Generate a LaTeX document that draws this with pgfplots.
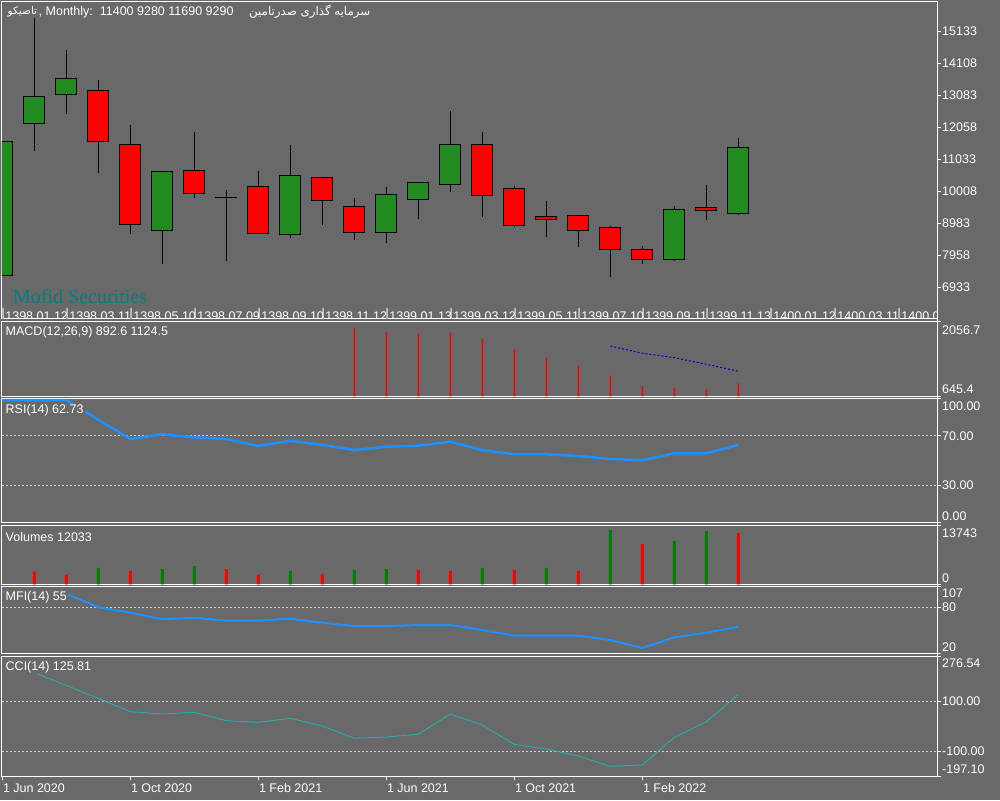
\documentclass[border=0pt]{standalone}
\usepackage{fontspec}
\setmainfont{Liberation Sans}
\newfontfamily\arabicfont[Script=Arabic]{DejaVu Sans}
\newfontfamily\wmfont{Liberation Serif}
\usepackage{pgfplots}
\usepackage{pgfplotstable}
\pgfplotsset{compat=1.18}
\TeXXeTstate=1
\definecolor{bg}{RGB}{105,105,105}
\definecolor{cgreen}{RGB}{34,139,34}
\definecolor{vgreen}{RGB}{0,128,0}
\definecolor{cred}{RGB}{255,0,0}
\definecolor{lvl}{RGB}{205,205,205}
\definecolor{rsiblue}{RGB}{30,144,255}
\definecolor{ccicol}{RGB}{32,178,170}
\definecolor{sigblue}{RGB}{0,0,215}
\definecolor{wm}{RGB}{0,128,128}
\definecolor{mkor}{RGB}{225,160,110}
\definecolor{mkbl}{RGB}{150,200,245}
\newcommand\lab{\fontsize{12.5}{14}\selectfont}
% candles: i, body low, body high, low, high
\pgfplotstableread{
i bl bh lo hi
0 7318 11604 7318 11604
1 12194 13048 11315 15829
2 13125 13625 12502 14546
5 8761 10654 7690 10654
9 8633 10526 8524 11498
12 8697 9916 8364 10151
13 9756 10301 9134 10301
14 10237 11521 10000 12589
21 7831 9435 7786 9541
23 9307 11424 9262 11732
}\greenc
\pgfplotstableread{
i bl bh lo hi
3 11604 13253 10609 13583
4 8954 11521 8652 12140
6 9949 10686 9807 11906
8 8665 10173 8665 10664
10 9724 10462 8941 10462
11 8697 9531 8460 9798
15 9884 11521 9198 11906
16 8922 10096 8877 10173
17 9114 9211 8556 9702
18 8761 9243 8235 9243
19 8152 8858 7273 8890
20 7831 8152 7680 8258
22 9403 9499 9102 10215
}\redc
\pgfplotstableread{
i bl bh lo hi
7 9820 9820 7786 10054
}\dojic
\begin{document}
\begin{tikzpicture}
\fill[bg] (0pt,0pt) rectangle (1000pt,800pt);
\pgfplotsset{panel/.style={
  scale only axis, width=935pt, anchor=south west,
  xmin=-0.0094, xmax=29.209,
  axis line style={white, line width=1pt},
  xtick=\empty, scaled y ticks=false,
  ytick pos=right, yticklabel pos=right, tick align=outside,
  major tick length=4pt,
  tick style={white, line width=1pt},
  yticklabel style={font=\lab, text=white, anchor=west, inner sep=0pt, xshift=1pt},
  extra y tick style={grid=major},
  major grid style={lvl, line width=1pt, dash pattern=on 2pt off 2pt},
},
wick/.style={draw=none, mark=none, error bars/.cd, y dir=plus, y explicit,
  error mark=none, error bar style={draw=black, line width=1pt}},
bodyout/.style={draw=none, mark=none, error bars/.cd, y dir=plus, y explicit,
  error mark=none, error bar style={draw=black, line width=22pt}},
bodyin/.style={draw=none, mark=none, error bars/.cd, y dir=plus, y explicit,
  error mark=none, error bar style={draw=#1, line width=20pt}},
}
\draw[white, line width=1pt] (937pt,24pt) -- (937pt,798pt);
% ---------------- main price panel
\begin{axis}[panel, at={(2pt,481pt)}, height=317pt, ymin=5916, ymax=16086,
  ytick={6933,7958,8983,10008,11033,12058,13083,14108,15133},
  yticklabels={6933,7958,8983,10008,11033,12058,13083,14108,15133}]
\addplot[wick] table[x=i, y=lo, y error expr=\thisrow{hi}-\thisrow{lo}] {\greenc};
\addplot[wick] table[x=i, y=lo, y error expr=\thisrow{hi}-\thisrow{lo}] {\redc};
\addplot[wick] table[x=i, y=lo, y error expr=\thisrow{hi}-\thisrow{lo}] {\dojic};
\addplot[bodyout] table[x=i, y expr=\thisrow{bl}-16, y error expr=\thisrow{bh}-\thisrow{bl}+32] {\greenc};
\addplot[bodyout] table[x=i, y expr=\thisrow{bl}-16, y error expr=\thisrow{bh}-\thisrow{bl}+32] {\redc};
\addplot[bodyout] table[x=i, y expr=\thisrow{bl}-16, y error expr=\thisrow{bh}-\thisrow{bl}+32] {\dojic};
\addplot[bodyin=cgreen] table[x=i, y expr=\thisrow{bl}+16, y error expr=\thisrow{bh}-\thisrow{bl}-32] {\greenc};
\addplot[bodyin=cred] table[x=i, y expr=\thisrow{bl}+16, y error expr=\thisrow{bh}-\thisrow{bl}-32] {\redc};
\pgfplotsinvokeforeach{0,2,...,28}{
  \draw[mkor, line width=1pt] (axis cs:{#1+0.005},5900) -- (axis cs:{#1+0.005},6270);
  \draw[mkbl, line width=1pt] (axis cs:{#1+0.04},5900) -- (axis cs:{#1+0.04},6270);
}
\begin{scope}[every node/.style={anchor=north west, inner sep=0pt, text=white, font=\lab}]
\node at (axis cs:0.09,6150) {1398 01 12};
\node at (axis cs:2.09,6150) {1398 03 11};
\node at (axis cs:4.09,6150) {1398 05 10};
\node at (axis cs:6.09,6150) {1398 07 09};
\node at (axis cs:8.09,6150) {1398 09 10};
\node at (axis cs:10.09,6150) {1398 11 12};
\node at (axis cs:12.09,6150) {1399 01 13};
\node at (axis cs:14.09,6150) {1399 03 12};
\node at (axis cs:16.09,6150) {1399 05 11};
\node at (axis cs:18.09,6150) {1399 07 10};
\node at (axis cs:20.09,6150) {1399 09 11};
\node at (axis cs:22.09,6150) {1399 11 13};
\node at (axis cs:24.09,6150) {1400 01 12};
\node at (axis cs:26.09,6150) {1400 03 11};
\node at (axis cs:28.09,6150) {1400 05 10};
\end{scope}
\end{axis}
% ---------------- MACD
\begin{axis}[panel, at={(2pt,403.5pt)}, height=74.5pt, ymin=645.4, ymax=2056.7,
  ytick={645.4,2056.7}, yticklabels={,}]
\addplot[ybar, bar width=1.5pt, bar shift=0pt, fill=cred, draw=none] coordinates {
 (11,1948.7) (12,1867.3) (13,1835.1) (14,1854.0) (15,1734.7) (16,1545.3) (17,1382.2)
 (18,1223.3) (19,1034) (20,843) (21,806.7) (22,787.7) (23,892.6)};
\addplot[sigblue, line width=1pt, dash pattern=on 2pt off 2pt] coordinates {
 (19,1602) (20,1464) (21,1380.5) (22,1255.5) (23,1124.5)};
\end{axis}
% ---------------- RSI
\begin{axis}[panel, at={(2pt,277.3pt)}, height=124pt, ymin=0, ymax=100,
  ytick={0,100}, yticklabels={,}, extra y ticks={30,70}, extra y tick labels={30.00,70.00}]
\addplot[rsiblue, line width=2.5pt, line join=round] coordinates {
 (0,98.9) (1,98.9) (2,98.9) (3,83.1) (4,67.5) (5,71.3) (6,68.9) (7,67.5) (8,61.9)
 (9,66.1) (10,62.7) (11,58.6) (12,61.3) (13,62.1) (14,65.3) (15,58.6) (16,55.2)
 (17,55.2) (18,53.8) (19,51.4) (20,50.3) (21,56.0) (22,56.0) (23,62.73)};
\end{axis}
% ---------------- Volumes
\begin{axis}[panel, at={(2pt,215.5pt)}, height=58.8pt, ymin=0, ymax=13743,
  ytick={0,13743}, yticklabels={,}]
\addplot[ybar, bar width=3pt, bar shift=0pt, fill=cred, draw=none] coordinates {
 (1,2991) (2,2220) (4,3155) (7,3622) (8,2220) (10,2454) (13,3389) (14,3155)
 (16,3389) (18,3155) (20,9465) (23,12033)};
\addplot[ybar, bar width=3pt, bar shift=0pt, fill=vgreen, draw=none] coordinates {
 (3,3856) (5,3622) (6,4323) (9,3155) (11,3389) (12,3622) (15,3856) (17,3856)
 (19,12737) (21,10166) (22,12503)};
\end{axis}
% ---------------- MFI
\begin{axis}[panel, at={(2pt,146pt)}, height=67.3pt, ymin=19, ymax=107,
  ytick={19,107}, yticklabels={,}, extra y ticks={80}, extra y tick labels={80}]
\addplot[rsiblue, line width=2pt, line join=round] coordinates {
 (0,100.5) (1,98.8) (2,97.6) (3,80.1) (4,73.0) (5,64.4) (6,66.5) (7,62.5) (8,62.5)
 (9,65.2) (10,59.9) (11,55.6) (12,55.6) (13,56.9) (14,56.9) (15,50.4) (16,42.9)
 (17,42.9) (18,42.9) (19,37.3) (20,26.8) (21,40.8) (22,46.9) (23,54.5)};
\end{axis}
% ---------------- CCI
\begin{axis}[panel, at={(2pt,24pt)}, height=119.5pt, ymin=-197.1, ymax=276.54,
  ytick={-197.1,276.54}, yticklabels={,}, extra y ticks={-100,100},
  extra y tick labels={-100.00,100.00},
  xtick={0,4,8,12,16,20}, xtick pos=left,
  xticklabels={1 Jun 2020,1 Oct 2020,1 Feb 2021,1 Jun 2021,1 Oct 2021,1 Feb 2022},
  xticklabel style={font=\lab, text=white, anchor=north west, inner sep=0pt, xshift=0.5pt, yshift=-3.5pt}]
\addplot[ccicol, line width=0.9pt] coordinates {
 (1,212.3) (2,162.0) (3,110.1) (4,57.8) (5,48.6) (6,55.4) (7,22.1) (8,15.7) (9,31.6)
 (10,1.1) (11,-47.7) (12,-42.5) (13,-31.8) (14,48.6) (15,5.0) (16,-71.5) (17,-90.1)
 (18,-117.8) (19,-158.7) (20,-153.5) (21,-43.7) (22,18.1) (23,125.81)};
\end{axis}
% ---------------- texts
\node[wm, anchor=base west, inner sep=0pt, font={\wmfont\fontsize{20}{22}\selectfont}] at (13pt,496.7pt) {Mofid Securities};
\node[anchor=west, inner sep=1pt, fill=bg, text=white] at (6.5pt,788pt) {\arabicfont\fontsize{10.5}{12}\selectfont\beginR تاصیکو\endR};
\node[anchor=west, inner sep=0pt, text=white, font=\lab] at (38.5pt,788pt) {, Monthly:\ \ 11400 9280 11690 9290};
\node[anchor=west, inner sep=1pt, fill=bg, text=white] at (248pt,788pt) {\arabicfont\fontsize{11.8}{13}\selectfont\beginR سرمایه گذاری صدرتامین\endR};
\begin{scope}[every node/.style={anchor=west, inner sep=1pt, fill=bg, text=white, font=\lab}]
\node at (4.5pt,467.3pt) {MACD(12,26,9) 892.6 1124.5};
\node at (4.5pt,389.3pt) {RSI(14) 62.73};
\node at (4.5pt,263.3pt) {Volumes 12033};
\node at (4.5pt,202.7pt) {MFI(14) 55};
\node at (4.5pt,132.7pt) {CCI(14) 125.81};
\end{scope}
\begin{scope}[every node/.style={anchor=west, inner sep=0pt, text=white, font=\lab}]
\node at (942pt,470pt) {2056.7};
\node at (942pt,411pt) {645.4};
\node at (942pt,394pt) {100.00};
\node at (942pt,284pt) {0.00};
\node at (942pt,267pt) {13743};
\node at (942pt,222pt) {0};
\node at (942pt,207pt) {107};
\node at (942pt,153pt) {20};
\node at (942pt,137pt) {276.54};
\node at (942pt,31.3pt) {-197.10};
\end{scope}
\end{tikzpicture}
\end{document}
